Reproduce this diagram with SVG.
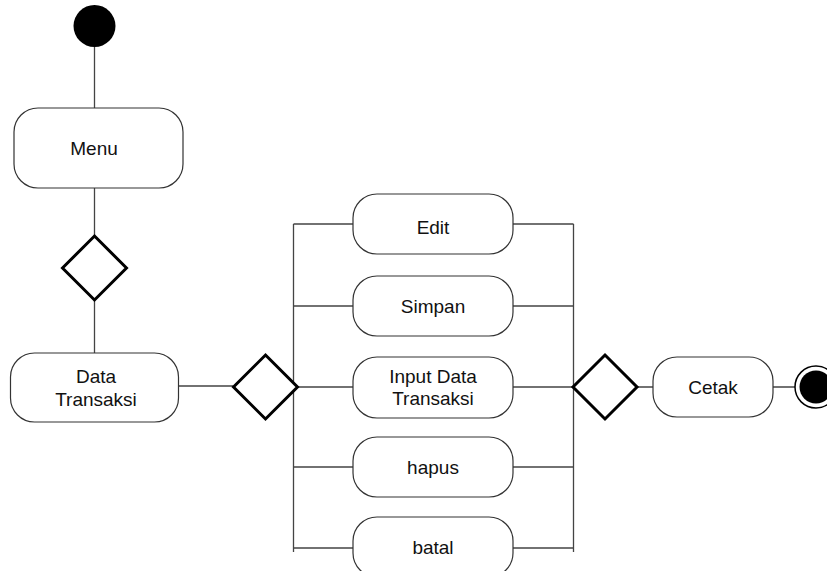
<svg xmlns="http://www.w3.org/2000/svg" width="827" height="571" viewBox="0 0 827 571">
<style>
.box{fill:#fff;stroke:#333;stroke-width:1.2}
.dia{fill:#fff;stroke:#000;stroke-width:3}
.ln{fill:none;stroke:#444;stroke-width:1.3}
.t{font-family:"Liberation Sans",Arial,sans-serif;font-size:19px;fill:#111;text-anchor:middle}
</style>
<rect width="827" height="571" fill="#fff"/>
<g id="connectors">
<path class="ln" d="M94.5 47V108M94.5 188V236M94.5 300V353M178 386H233"/>
<path class="ln" d="M293.5 224V552M573.5 224V552"/>
<path class="ln" d="M293.5 224H353M293.5 306H353M293.5 387H353M293.5 467H353M293.5 548H353"/>
<path class="ln" d="M513 224H573.5M513 306H573.5M513 387H573.5M513 467H573.5M513 548H573.5"/>
<path class="ln" d="M637 387H653M773 387H795"/>
</g>
<g id="start"><circle cx="94.5" cy="26" r="21" fill="#000"/></g>
<g id="menu"><rect class="box" x="14" y="108" width="169" height="80" rx="24"/><text class="t" x="94" y="155">Menu</text></g>
<g id="decision1"><polygon class="dia" points="94.5,236 126.5,268 94.5,300 62.5,268"/></g>
<g id="data-transaksi"><rect class="box" x="10.5" y="353" width="168" height="69" rx="24"/><text class="t" x="96" y="382.5">Data</text><text class="t" x="96" y="405.5">Transaksi</text></g>
<g id="decision2"><polygon class="dia" points="265.5,355 297.5,387 265.5,419 233.5,387"/></g>
<g id="edit"><rect class="box" x="353" y="194" width="160" height="60" rx="24"/><text class="t" x="433" y="234">Edit</text></g>
<g id="simpan"><rect class="box" x="353" y="276" width="160" height="60" rx="24"/><text class="t" x="433" y="313">Simpan</text></g>
<g id="input"><rect class="box" x="353" y="357" width="160" height="61" rx="24"/><text class="t" x="433" y="382.5">Input Data</text><text class="t" x="433" y="405">Transaksi</text></g>
<g id="hapus"><rect class="box" x="353" y="437" width="160" height="60" rx="24"/><text class="t" x="433" y="474">hapus</text></g>
<g id="batal"><rect class="box" x="353" y="517" width="160" height="60" rx="24"/><text class="t" x="433" y="554">batal</text></g>
<g id="decision3"><polygon class="dia" points="605,355 637,387 605,419 573,387"/></g>
<g id="cetak"><rect class="box" x="653" y="357" width="120" height="60" rx="24"/><text class="t" x="713" y="394">Cetak</text></g>
<g id="end"><circle cx="816" cy="387" r="21" fill="#fff" stroke="#000" stroke-width="1.5"/><circle cx="816" cy="387" r="16.5" fill="#000"/></g>
</svg>
